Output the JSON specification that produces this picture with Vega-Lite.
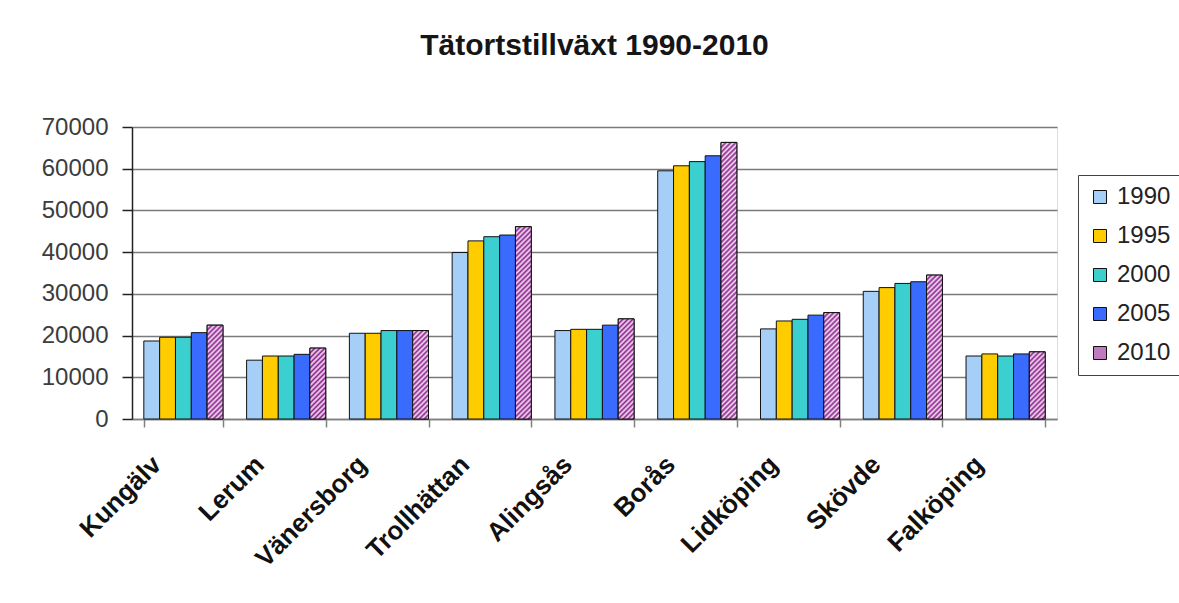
{
  "$schema": "https://vega.github.io/schema/vega-lite/v6.json",
  "width": 925,
  "height": 292,
  "autosize": {"type": "none"},
  "padding": {"left": 132, "top": 127, "right": 122, "bottom": 184},
  "background": "white",
  "title": {
    "text": "Tätortstillväxt 1990-2010",
    "font": "Liberation Sans",
    "fontSize": 30,
    "fontWeight": "bold",
    "color": "#151515",
    "anchor": "middle",
    "frame": "group",
    "offset": 54
  },
  "params": [
    {"name": "hatch", "value": [
      {"offset":0,"color":"#8c238c"},{"offset":0.00833,"color":"#f5e2f5"},{"offset":0.01667,"color":"#8c238c"},{"offset":0.025,"color":"#f5e2f5"},{"offset":0.03333,"color":"#8c238c"},{"offset":0.04167,"color":"#f5e2f5"},{"offset":0.05,"color":"#8c238c"},{"offset":0.05833,"color":"#f5e2f5"},{"offset":0.06667,"color":"#8c238c"},{"offset":0.075,"color":"#f5e2f5"},{"offset":0.08333,"color":"#8c238c"},{"offset":0.09167,"color":"#f5e2f5"},
      {"offset":0.1,"color":"#8c238c"},{"offset":0.10833,"color":"#f5e2f5"},{"offset":0.11667,"color":"#8c238c"},{"offset":0.125,"color":"#f5e2f5"},{"offset":0.13333,"color":"#8c238c"},{"offset":0.14167,"color":"#f5e2f5"},{"offset":0.15,"color":"#8c238c"},{"offset":0.15833,"color":"#f5e2f5"},{"offset":0.16667,"color":"#8c238c"},{"offset":0.175,"color":"#f5e2f5"},{"offset":0.18333,"color":"#8c238c"},{"offset":0.19167,"color":"#f5e2f5"},
      {"offset":0.2,"color":"#8c238c"},{"offset":0.20833,"color":"#f5e2f5"},{"offset":0.21667,"color":"#8c238c"},{"offset":0.225,"color":"#f5e2f5"},{"offset":0.23333,"color":"#8c238c"},{"offset":0.24167,"color":"#f5e2f5"},{"offset":0.25,"color":"#8c238c"},{"offset":0.25833,"color":"#f5e2f5"},{"offset":0.26667,"color":"#8c238c"},{"offset":0.275,"color":"#f5e2f5"},{"offset":0.28333,"color":"#8c238c"},{"offset":0.29167,"color":"#f5e2f5"},
      {"offset":0.3,"color":"#8c238c"},{"offset":0.30833,"color":"#f5e2f5"},{"offset":0.31667,"color":"#8c238c"},{"offset":0.325,"color":"#f5e2f5"},{"offset":0.33333,"color":"#8c238c"},{"offset":0.34167,"color":"#f5e2f5"},{"offset":0.35,"color":"#8c238c"},{"offset":0.35833,"color":"#f5e2f5"},{"offset":0.36667,"color":"#8c238c"},{"offset":0.375,"color":"#f5e2f5"},{"offset":0.38333,"color":"#8c238c"},{"offset":0.39167,"color":"#f5e2f5"},
      {"offset":0.4,"color":"#8c238c"},{"offset":0.40833,"color":"#f5e2f5"},{"offset":0.41667,"color":"#8c238c"},{"offset":0.425,"color":"#f5e2f5"},{"offset":0.43333,"color":"#8c238c"},{"offset":0.44167,"color":"#f5e2f5"},{"offset":0.45,"color":"#8c238c"},{"offset":0.45833,"color":"#f5e2f5"},{"offset":0.46667,"color":"#8c238c"},{"offset":0.475,"color":"#f5e2f5"},{"offset":0.48333,"color":"#8c238c"},{"offset":0.49167,"color":"#f5e2f5"},
      {"offset":0.5,"color":"#8c238c"},{"offset":0.50833,"color":"#f5e2f5"},{"offset":0.51667,"color":"#8c238c"},{"offset":0.525,"color":"#f5e2f5"},{"offset":0.53333,"color":"#8c238c"},{"offset":0.54167,"color":"#f5e2f5"},{"offset":0.55,"color":"#8c238c"},{"offset":0.55833,"color":"#f5e2f5"},{"offset":0.56667,"color":"#8c238c"},{"offset":0.575,"color":"#f5e2f5"},{"offset":0.58333,"color":"#8c238c"},{"offset":0.59167,"color":"#f5e2f5"},
      {"offset":0.6,"color":"#8c238c"},{"offset":0.60833,"color":"#f5e2f5"},{"offset":0.61667,"color":"#8c238c"},{"offset":0.625,"color":"#f5e2f5"},{"offset":0.63333,"color":"#8c238c"},{"offset":0.64167,"color":"#f5e2f5"},{"offset":0.65,"color":"#8c238c"},{"offset":0.65833,"color":"#f5e2f5"},{"offset":0.66667,"color":"#8c238c"},{"offset":0.675,"color":"#f5e2f5"},{"offset":0.68333,"color":"#8c238c"},{"offset":0.69167,"color":"#f5e2f5"},
      {"offset":0.7,"color":"#8c238c"},{"offset":0.70833,"color":"#f5e2f5"},{"offset":0.71667,"color":"#8c238c"},{"offset":0.725,"color":"#f5e2f5"},{"offset":0.73333,"color":"#8c238c"},{"offset":0.74167,"color":"#f5e2f5"},{"offset":0.75,"color":"#8c238c"},{"offset":0.75833,"color":"#f5e2f5"},{"offset":0.76667,"color":"#8c238c"},{"offset":0.775,"color":"#f5e2f5"},{"offset":0.78333,"color":"#8c238c"},{"offset":0.79167,"color":"#f5e2f5"},
      {"offset":0.8,"color":"#8c238c"},{"offset":0.80833,"color":"#f5e2f5"},{"offset":0.81667,"color":"#8c238c"},{"offset":0.825,"color":"#f5e2f5"},{"offset":0.83333,"color":"#8c238c"},{"offset":0.84167,"color":"#f5e2f5"},{"offset":0.85,"color":"#8c238c"},{"offset":0.85833,"color":"#f5e2f5"},{"offset":0.86667,"color":"#8c238c"},{"offset":0.875,"color":"#f5e2f5"},{"offset":0.88333,"color":"#8c238c"},{"offset":0.89167,"color":"#f5e2f5"},
      {"offset":0.9,"color":"#8c238c"},{"offset":0.90833,"color":"#f5e2f5"},{"offset":0.91667,"color":"#8c238c"},{"offset":0.925,"color":"#f5e2f5"},{"offset":0.93333,"color":"#8c238c"},{"offset":0.94167,"color":"#f5e2f5"},{"offset":0.95,"color":"#8c238c"},{"offset":0.95833,"color":"#f5e2f5"},{"offset":0.96667,"color":"#8c238c"},{"offset":0.975,"color":"#f5e2f5"},{"offset":0.98333,"color":"#8c238c"},{"offset":0.99167,"color":"#f5e2f5"},
      {"offset":1,"color":"#8c238c"}
    ]}
  ],
  "data": {"values": [
    {"ort": "Kungälv", "ar": "1990", "value": 18700},
    {"ort": "Kungälv", "ar": "1995", "value": 19600},
    {"ort": "Kungälv", "ar": "2000", "value": 19600},
    {"ort": "Kungälv", "ar": "2005", "value": 20700},
    {"ort": "Kungälv", "ar": "2010", "value": 22500},
    {"ort": "Lerum", "ar": "1990", "value": 14100},
    {"ort": "Lerum", "ar": "1995", "value": 15100},
    {"ort": "Lerum", "ar": "2000", "value": 15100},
    {"ort": "Lerum", "ar": "2005", "value": 15500},
    {"ort": "Lerum", "ar": "2010", "value": 17000},
    {"ort": "Vänersborg", "ar": "1990", "value": 20550},
    {"ort": "Vänersborg", "ar": "1995", "value": 20550},
    {"ort": "Vänersborg", "ar": "2000", "value": 21200},
    {"ort": "Vänersborg", "ar": "2005", "value": 21200},
    {"ort": "Vänersborg", "ar": "2010", "value": 21200},
    {"ort": "Trollhättan", "ar": "1990", "value": 39900},
    {"ort": "Trollhättan", "ar": "1995", "value": 42700},
    {"ort": "Trollhättan", "ar": "2000", "value": 43700},
    {"ort": "Trollhättan", "ar": "2005", "value": 44100},
    {"ort": "Trollhättan", "ar": "2010", "value": 46100},
    {"ort": "Alingsås", "ar": "1990", "value": 21200},
    {"ort": "Alingsås", "ar": "1995", "value": 21500},
    {"ort": "Alingsås", "ar": "2000", "value": 21500},
    {"ort": "Alingsås", "ar": "2005", "value": 22500},
    {"ort": "Alingsås", "ar": "2010", "value": 24000},
    {"ort": "Borås", "ar": "1990", "value": 59500},
    {"ort": "Borås", "ar": "1995", "value": 60700},
    {"ort": "Borås", "ar": "2000", "value": 61700},
    {"ort": "Borås", "ar": "2005", "value": 63100},
    {"ort": "Borås", "ar": "2010", "value": 66300},
    {"ort": "Lidköping", "ar": "1990", "value": 21600},
    {"ort": "Lidköping", "ar": "1995", "value": 23500},
    {"ort": "Lidköping", "ar": "2000", "value": 23900},
    {"ort": "Lidköping", "ar": "2005", "value": 24900},
    {"ort": "Lidköping", "ar": "2010", "value": 25500},
    {"ort": "Skövde", "ar": "1990", "value": 30600},
    {"ort": "Skövde", "ar": "1995", "value": 31500},
    {"ort": "Skövde", "ar": "2000", "value": 32500},
    {"ort": "Skövde", "ar": "2005", "value": 32900},
    {"ort": "Skövde", "ar": "2010", "value": 34500},
    {"ort": "Falköping", "ar": "1990", "value": 15100},
    {"ort": "Falköping", "ar": "1995", "value": 15600},
    {"ort": "Falköping", "ar": "2000", "value": 15100},
    {"ort": "Falköping", "ar": "2005", "value": 15600},
    {"ort": "Falköping", "ar": "2010", "value": 16100}
  ]},
  "encoding": {
    "x": {
      "field": "ort", "type": "nominal", "sort": null,
      "scale": {"paddingInner": 0.23, "paddingOuter": 0.115},
      "axis": {
        "title": null, "labelAngle": -45, "labelFont": "Liberation Sans", "labelFontSize": 26,
        "labelFontWeight": "bold", "labelColor": "#111", "labelPadding": 24, "labelOffset": -36,
        "tickBand": "extent", "tickSize": 8, "tickColor": "#808080", "tickWidth": 1.5,
        "domainColor": "#808080", "domainWidth": 1.5, "grid": false
      }
    },
    "xOffset": {"field": "ar", "type": "nominal", "sort": null, "scale": {"paddingInner": 0, "paddingOuter": 0}},
    "y": {
      "field": "value", "type": "quantitative", "stack": null,
      "scale": {"domain": [0, 70000], "nice": false},
      "axis": {
        "title": null, "values": [0, 10000, 20000, 30000, 40000, 50000, 60000, 70000], "format": "d",
        "labelFont": "Liberation Sans", "labelFontSize": 24, "labelColor": "#3c3c3c", "labelPadding": 14,
        "tickSize": 10, "tickColor": "#222", "tickWidth": 1.5, "domainColor": "#222", "domainWidth": 1.5,
        "grid": true, "gridColor": "#7a7a7a", "gridWidth": 1.5
      }
    }
  },
  "layer": [
    {
      "mark": {"type": "bar", "stroke": "#111", "strokeWidth": 1},
      "encoding": {
        "color": {
          "field": "ar", "type": "nominal", "sort": null,
          "scale": {"domain": ["1990", "1995", "2000", "2005", "2010"], "range": ["#a6cff7", "#ffcc00", "#3ccfcf", "#3a6bff", "#c07ac0"]},
          "legend": {
            "title": null, "orient": "none", "legendX": 946, "legendY": 48,
            "fillColor": "white", "strokeColor": "#444", "padding": 10,
            "labelFont": "Liberation Sans", "labelFontSize": 24, "labelColor": "#222", "labelOffset": 5,
            "symbolType": "square", "symbolSize": 169, "symbolStrokeColor": "#111", "symbolStrokeWidth": 1,
            "rowPadding": 15
          }
        }
      }
    },
    {
      "transform": [{"filter": "datum.ar === '2010'"}],
      "mark": {
        "type": "bar", "stroke": "#111", "strokeWidth": 1,
        "fill": {"expr": "{gradient: 'linear', x1: 0, y1: 0, x2: 300 * bandwidth('xOffset') / (pow(bandwidth('xOffset'), 2) + pow(scale('y', 0) - scale('y', datum.value), 2)), y2: 300 * (scale('y', 0) - scale('y', datum.value)) / (pow(bandwidth('xOffset'), 2) + pow(scale('y', 0) - scale('y', datum.value), 2)), stops: hatch}"}
      }
    }
  ]
}
